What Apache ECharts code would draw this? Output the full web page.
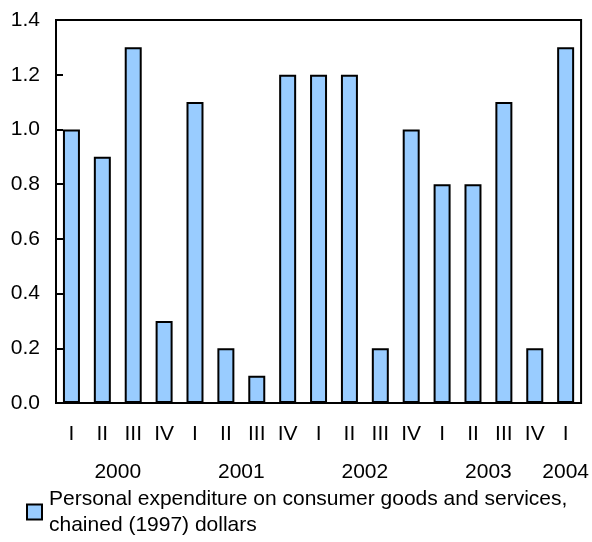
<!DOCTYPE html>
<html>
<head>
<meta charset="utf-8">
<script src="https://cdn.jsdelivr.net/npm/echarts@6/dist/echarts.min.js"></script>
<style>
  html, body { margin: 0; padding: 0; background: #fff; }
  #chart { width: 592px; height: 542px; }
</style>
</head>
<body>
<div id="chart"></div>
<script>
const quarters = ['I', 'II', 'III', 'IV', 'I', 'II', 'III', 'IV', 'I', 'II', 'III', 'IV', 'I', 'II', 'III', 'IV', 'I']
const values = [1.0, 0.9, 1.3, 0.3, 1.1, 0.2, 0.1, 1.2, 1.2, 1.2, 0.2, 1.0, 0.8, 0.8, 1.1, 0.2, 1.3]
const years = ['2000', '2001', '2002', '2003', '2004']
const yearPositions = [1.5, 5.5, 9.5, 13.5, 16]
const seriesName = 'Personal expenditure on consumer goods and services,\nchained (1997) dollars'

const font = 'Arial, "Liberation Sans", sans-serif'
const chart = echarts.init(document.getElementById('chart'))

const option = {
  animation: false,
  textStyle: { fontFamily: font },
  grid: {
    left: 56,
    right: 10,
    top: 20,
    bottom: 139,
    show: true,
    borderColor: '#000',
    borderWidth: 2
  },
  legend: {
    left: 21,
    top: 468,
    itemWidth: 15,
    itemHeight: 15,
    textStyle: {
      fontSize: 21,
      color: '#000',
      fontFamily: font,
      lineHeight: 26,
      padding: [26, 0, 0, 2]  // keeps the box level with the first line
    },
    data: [{ name: seriesName, icon: 'rect' }]
  },
  xAxis: [
    {
      type: 'category',
      data: quarters,
      axisLine: { show: true, lineStyle: { color: '#000', width: 2 } },
      axisTick: { show: false },
      axisLabel: { color: '#000', fontSize: 21, margin: 21, interval: 0 }
    },
    {
      type: 'value',
      position: 'bottom',
      min: -0.5,
      max: 16.5,
      interval: 0.5,
      axisLine: { show: false },
      axisTick: { show: false },
      splitLine: { show: false },
      axisLabel: {
        color: '#000',
        fontSize: 21,
        margin: 59,
        customValues: yearPositions,
        formatter: (v) => {
          const i = yearPositions.indexOf(v)
          return i >= 0 ? years[i] : ''
        }
      }
    }
  ],
  yAxis: {
    type: 'value',
    min: 0,
    max: 1.4,
    interval: 0.2,
    axisLine: { show: true, onZero: false, lineStyle: { color: '#000', width: 2 } },
    axisTick: { show: true, inside: true, length: 7, lineStyle: { color: '#000', width: 2 } },
    splitLine: { show: false },
    axisLabel: {
      color: '#000',
      fontSize: 21,
      margin: 16,
      formatter: (v) => v.toFixed(1)
    }
  },
  series: [{
    name: seriesName,
    type: 'bar',
    data: values,
    barWidth: '55%',
    itemStyle: {
      color: '#99ccff',
      borderColor: '#000',
      borderWidth: 2
    }
  }]
}

chart.setOption(option)
</script>
</body>
</html>
